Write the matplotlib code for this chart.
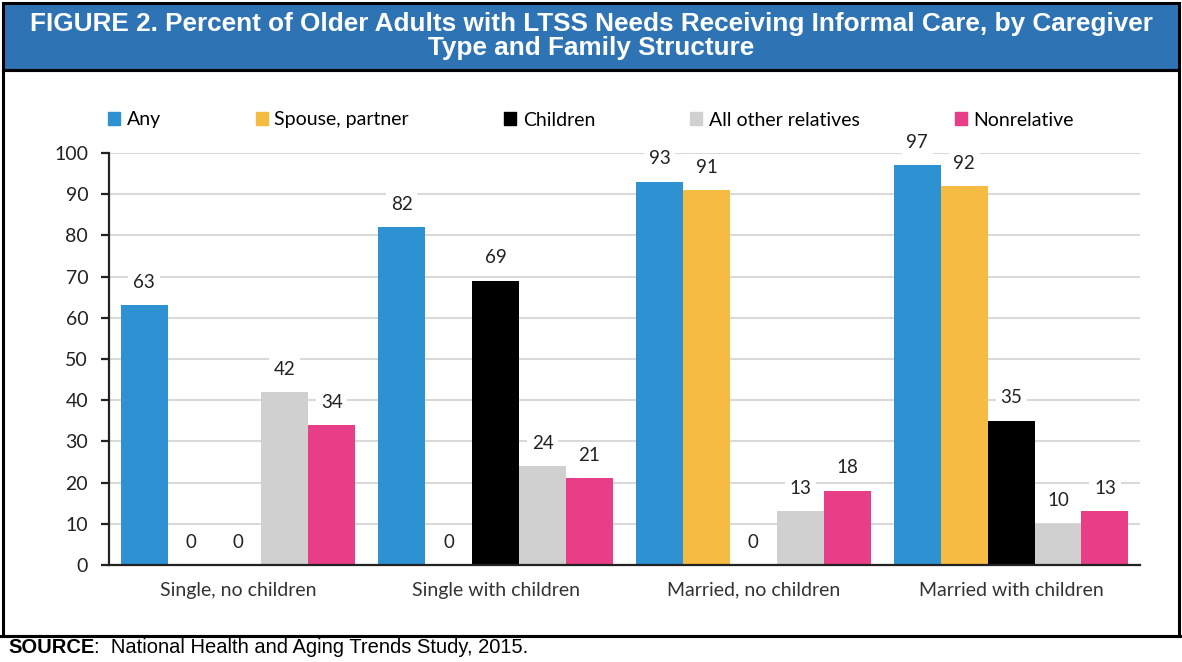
import matplotlib.pyplot as plt
import matplotlib.patches as mpatches
from matplotlib.lines import Line2D
import numpy as np

# ---------------------------------------------------------------------------
# Data
# ---------------------------------------------------------------------------
categories = ['Single, no children', 'Single with children',
              'Married, no children', 'Married with children']
series_names = ['Any', 'Spouse, partner', 'Children',
                'All other relatives', 'Nonrelative']
any_care = [63, 82, 93, 97]
spouse = [0, 0, 91, 92]
children = [0, 69, 0, 35]
other_relatives = [42, 24, 13, 10]
nonrelative = [34, 21, 18, 13]
y_ticks = [0, 10, 20, 30, 40, 50, 60, 70, 80, 90, 100]

title_text = ('FIGURE 2. Percent of Older Adults with LTSS Needs Receiving '
              'Informal Care, by Caregiver\nType and Family Structure')
source_bold = 'SOURCE'
source_rest = ':  National Health and Aging Trends Study, 2015.'

colors = ['#2E91D2', '#F6BB42', '#000000', '#D0D0D0', '#E83E88']
header_blue = '#2E74B5'

# ---------------------------------------------------------------------------
# Figure
# ---------------------------------------------------------------------------
fig = plt.figure(figsize=(11.82, 6.62), dpi=100)
W, H = 1182, 662


def px(x, y):
    """pixel position (from top-left) -> figure fraction"""
    return x / W, 1 - y / H


# frame: header band, chart box, rule above the source line
header = mpatches.Rectangle(px(3, 70), (1179 - 3) / W, 67 / H,
                            transform=fig.transFigure, facecolor=header_blue,
                            edgecolor='black', linewidth=2.2, zorder=0)
fig.patches.append(header)
box = mpatches.Rectangle(px(3, 636), (1179 - 3) / W, (636 - 70) / H,
                         transform=fig.transFigure, facecolor='none',
                         edgecolor='black', linewidth=2.2, zorder=0)
fig.patches.append(box)
fig.lines.append(Line2D([0, 1], [1 - 636 / H] * 2, transform=fig.transFigure,
                        color='black', linewidth=2.2))

fig.text(0.5, 1 - 36 / H, title_text, ha='center', va='center',
         color='white', fontsize=18.8, fontweight='bold',
         family='Liberation Sans', linespacing=0.98)

t = fig.text(8 / W, 1 - 653 / H, source_bold, ha='left', va='baseline',
             fontsize=14.5, fontweight='bold', family='Liberation Sans')
fig.canvas.draw()
bb = t.get_window_extent()
fig.text(bb.x1 / W, 1 - 653 / H, source_rest, ha='left', va='baseline',
         fontsize=14.5, family='Liberation Sans')

# ---------------------------------------------------------------------------
# Chart
# ---------------------------------------------------------------------------
ax = fig.add_axes([109 / W, (662 - 565) / H, (1140 - 109) / W, (565 - 153) / H])

values = [any_care, spouse, children, other_relatives, nonrelative]
x = np.arange(len(categories))
bar_w = 0.182
offsets = (np.arange(len(series_names)) - 2) * bar_w

for name, vals, off, col in zip(series_names, values, offsets, colors):
    ax.bar(x + off, vals, width=bar_w, color=col, label=name, zorder=2)
    for xi, v in zip(x + off, vals):
        ax.annotate(f'{v}', (xi, v), xytext=(0, 16.5),
                    textcoords='offset points', ha='center', va='center',
                    fontsize=13.5, family='Lato', color='#222222',
                    bbox=dict(boxstyle='square,pad=0.25', fc='white',
                              ec='none'), zorder=3)

ax.set_xlim(-0.5, 3.5)
ax.set_ylim(0, 100)
ax.set_yticks(y_ticks)
ax.set_xticks(x)
ax.set_xticklabels(categories, family='Lato', fontsize=14, color='#333333')
for lbl in ax.get_yticklabels():
    lbl.set_family('Lato')
    lbl.set_fontsize(14)
    lbl.set_color('#222222')

ax.yaxis.grid(True, color='#D9D9D9', linewidth=1.5, zorder=0)
ax.set_axisbelow(True)
for side in ['top', 'right']:
    ax.spines[side].set_visible(False)
for side in ['left', 'bottom']:
    ax.spines[side].set_linewidth(1.6)
    ax.spines[side].set_color('#222222')
ax.tick_params(axis='y', length=6, width=1.6, color='#222222', pad=9)
ax.tick_params(axis='x', length=0, pad=12)

handles = [mpatches.Patch(color=c) for c in colors]
fig.legend(handles, series_names, loc='center', ncol=5,
           bbox_to_anchor=(0.5, 1 - 120 / H), frameon=False,
           prop={'family': 'Lato', 'size': 14},
           handlelength=0.6, handleheight=0.6, handletextpad=0.35,
           columnspacing=4.9)

plt.savefig('out.png', dpi=100)
